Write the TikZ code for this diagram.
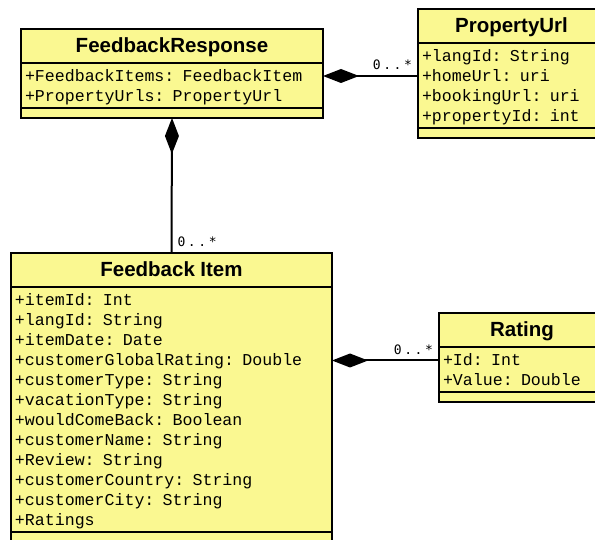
\documentclass[tikz,border=0pt]{standalone}
\usepackage{fontspec}
\setsansfont{Liberation Sans}
\setmonofont{Liberation Mono}
\newfontfamily\multfont{DejaVu Sans Mono}[LetterSpace=20]
\usetikzlibrary{shapes.multipart,arrows.meta}
\definecolor{classfill}{RGB}{250,248,145}

\newcommand{\classtitle}[1]{\makebox[\linewidth][c]{\rule[-9pt]{0pt}{32pt}\sffamily\bfseries\fontsize{20.5}{24}\selectfont #1}}
\newcommand{\firstrow}{\rule{0pt}{18pt}}
\newcommand{\lastrow}{\rule[-5pt]{0pt}{5pt}}
\newcommand{\emptypart}{\rule{0pt}{8pt}}

\tikzset{
  umlclass/.style={rectangle split, rectangle split parts=3, draw, line width=2pt,
    fill=classfill, anchor=north west, inner xsep=4pt, inner ysep=0pt, outer sep=0pt,
    align=left, font={\ttfamily\fontsize{16.6}{20}\selectfont}},
  compo/.style={line width=2pt, {Diamond[length=36pt,width=14pt]}-},
  mult/.style={font={\multfont\fontsize{13}{15}\selectfont}, inner sep=5pt}
}

\begin{document}
\begin{tikzpicture}[x=1pt,y=-1pt]
\useasboundingbox (0,0) rectangle (595,540);
% classes
\node[umlclass, text width=294pt] (resp) at (21,29)
  {\classtitle{FeedbackResponse}
   \nodepart{two}\firstrow+FeedbackItems: FeedbackItem\\
   +PropertyUrls: PropertyUrl\lastrow
   \nodepart{three}\emptypart};
\node[umlclass, text width=179pt] (prop) at (418,9)
  {\classtitle{PropertyUrl}
   \nodepart{two}\firstrow+langId: String\\
   +homeUrl: uri\\
   +bookingUrl: uri\\
   +propertyId: int\lastrow
   \nodepart{three}\emptypart};
\node[umlclass, text width=313pt] (item) at (11,253)
  {\classtitle{Feedback Item}
   \nodepart{two}\firstrow+itemId: Int\\
   +langId: String\\
   +itemDate: Date\\
   +customerGlobalRating: Double\\
   +customerType: String\\
   +vacationType: String\\
   +wouldComeBack: Boolean\\
   +customerName: String\\
   +Review: String\\
   +customerCountry: String\\
   +customerCity: String\\
   +Ratings\lastrow
   \nodepart{three}\emptypart};
\node[umlclass, text width=158pt] (rate) at (439,313)
  {\classtitle{Rating}
   \nodepart{two}\firstrow+Id: Int\\
   +Value: Double\lastrow
   \nodepart{three}\emptypart};
% compositions
\draw[compo] ([yshift=-2.5pt]resp.east) -- ([yshift=-2.5pt]resp.east -| prop.west) node[mult, above left] {0..*};
\draw[compo] (resp.south) -- (item.north) node[mult, above right] {0..*};
\draw[compo] ([yshift=-3pt]item.east |- rate.west) -- ([yshift=-3pt]rate.west) node[mult, above left] {0..*};
\end{tikzpicture}
\end{document}
